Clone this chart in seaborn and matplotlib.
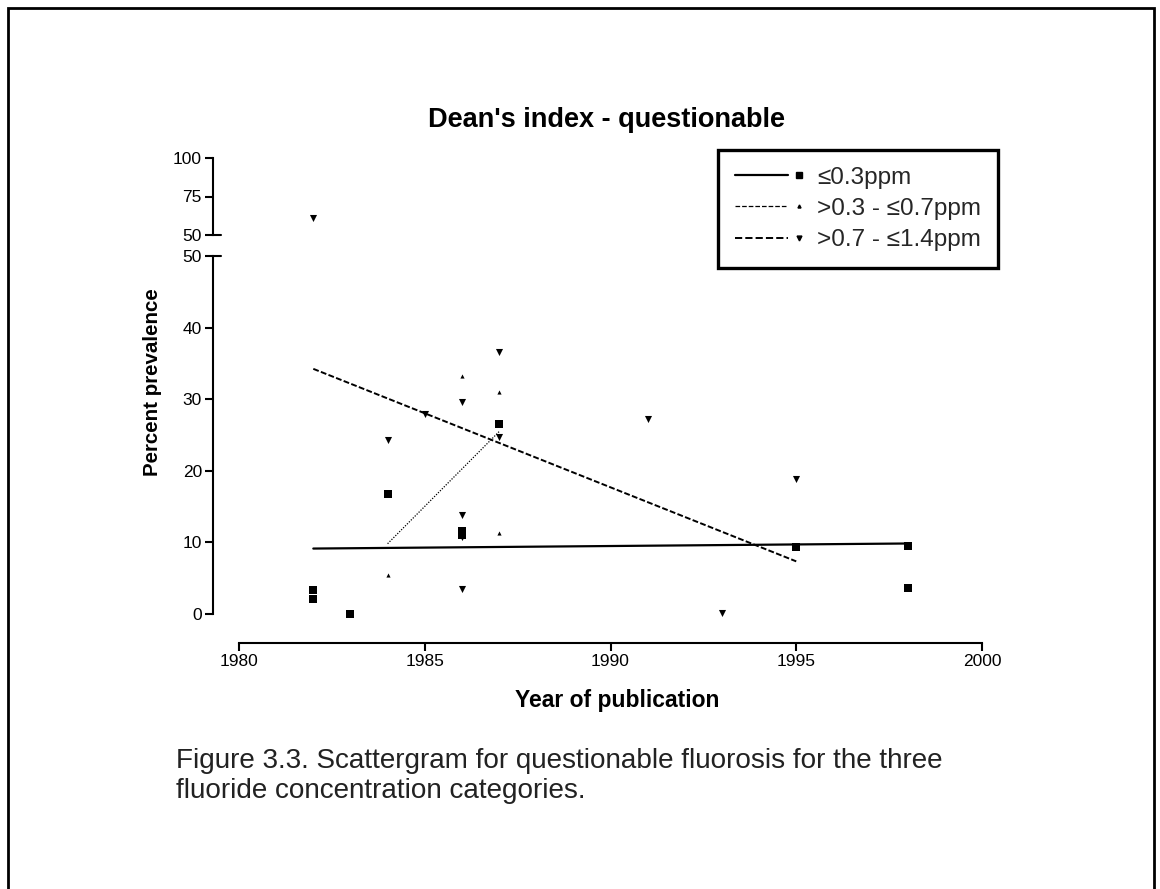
import numpy as np
import pandas as pd
import matplotlib
matplotlib.use("Agg")
import matplotlib.pyplot as plt
from matplotlib.lines import Line2D
from matplotlib.patches import Rectangle
from matplotlib.legend_handler import HandlerBase
import seaborn as sns

# ---------------- data ----------------
years_low = [1982, 1982, 1983, 1984, 1986, 1986, 1987, 1995, 1998, 1998]
prev_low = [3.4, 2.1, 0.0, 16.8, 11.6, 11.0, 26.6, 9.4, 9.5, 3.7]

years_mid = [1984, 1986, 1987, 1987]
prev_mid = [5.5, 33.2, 31.0, 11.3]

years_high = [1982, 1984, 1985, 1986, 1986, 1986, 1986, 1987, 1987, 1991, 1993, 1995]
prev_high = [61.0, 24.3, 28.0, 29.6, 13.8, 10.8, 3.5, 36.6, 24.7, 27.2, 0.2, 18.8]

group_labels = ["\u22640.3ppm", ">0.3 - \u22640.7ppm", ">0.7 - \u22641.4ppm"]
x_ticks = [1980, 1985, 1990, 1995, 2000]
y_ticks_low = [0, 10, 20, 30, 40, 50]
y_ticks_high = [50, 75, 100]

title = "Dean's index - questionable"
xlabel = "Year of publication"
ylabel = "Percent prevalence"
caption = ("Figure 3.3. Scattergram for questionable fluorosis for the three\n"
           "fluoride concentration categories.")

# ---------------- styling ----------------
sns.set_theme(style="white")
plt.rcParams["font.family"] = ["Liberation Sans", "DejaVu Sans"]

W, H = 1160, 889
fig = plt.figure(figsize=(W / 100, H / 100), dpi=100)
fig.patch.set_facecolor("white")

def fx(px):
    return px / W

def fy(py):
    return 1 - py / H

x_left, x_right = 239, 982
ax_low = fig.add_axes([fx(x_left), fy(614), fx(x_right - x_left), fy(256) - fy(614)])
ax_high = fig.add_axes([fx(x_left), fy(235), fx(x_right - x_left), fy(158) - fy(235)])

df = pd.concat([
    pd.DataFrame({"year": years_low, "prev": prev_low, "group": group_labels[0]}),
    pd.DataFrame({"year": years_mid, "prev": prev_mid, "group": group_labels[1]}),
    pd.DataFrame({"year": years_high, "prev": prev_high, "group": group_labels[2]}),
], ignore_index=True)

marker_spec = {
    group_labels[0]: dict(marker="s", s=36),
    group_labels[1]: dict(marker="^", s=9),
    group_labels[2]: dict(marker="v", s=26),
}
line_spec = {
    group_labels[0]: dict(ls="-", lw=1.6),
    group_labels[1]: dict(ls=(0, (1, 1.2)), lw=0.9),
    group_labels[2]: dict(ls=(0, (3.0, 1.2)), lw=1.4),
}

for g in group_labels:
    sub = df[df["group"] == g]
    low = sub[sub["prev"] <= 50]
    high = sub[sub["prev"] > 50]
    if len(low):
        sns.scatterplot(data=low, x="year", y="prev", ax=ax_low, color="black",
                        edgecolor="black", linewidth=0, legend=False,
                        clip_on=False, **marker_spec[g])
    if len(high):
        sns.scatterplot(data=high, x="year", y="prev", ax=ax_high, color="black",
                        edgecolor="black", linewidth=0, legend=False,
                        clip_on=False, **marker_spec[g])
    sns.regplot(data=sub, x="year", y="prev", ax=ax_low, scatter=False,
                ci=None, truncate=True,
                line_kws=dict(color="black", **line_spec[g]))

# lower axes
ax_low.set_xlim(1980, 2000)
ax_low.set_ylim(0, 50)
ax_low.set_xticks(x_ticks)
ax_low.set_yticks(y_ticks_low)
ax_low.set_xlabel("")
ax_low.set_ylabel("")
for s in ("top", "right"):
    ax_low.spines[s].set_visible(False)
ax_low.spines["left"].set_position(("outward", 26 * 0.72))
ax_low.spines["bottom"].set_position(("outward", 29 * 0.72))

# upper axes
ax_high.set_xlim(1980, 2000)
ax_high.set_ylim(50, 100)
ax_high.set_yticks(y_ticks_high)
ax_high.set_xticks([])
ax_high.set_xlabel("")
ax_high.set_ylabel("")
for s in ("top", "right", "bottom"):
    ax_high.spines[s].set_visible(False)
ax_high.spines["left"].set_position(("outward", 26 * 0.72))

for ax in (ax_low, ax_high):
    ax.patch.set_alpha(0)
    for s in ax.spines.values():
        s.set_color("black")
        s.set_linewidth(1.5)
    ax.tick_params(axis="both", direction="out", length=6, width=1.5,
                   color="black", labelcolor="black", labelsize=12.5, pad=2,
                   left=True, bottom=True)
    for lab in ax.get_yticklabels():
        lab.set_fontsize(12.5)

# axis-break marks (short right-pointing ticks at the two 50 levels)
for py in (256, 235):
    fig.add_artist(Line2D([fx(213), fx(221)], [fy(py), fy(py)], color="black", lw=1.5))

# texts
fig.text(fx(607), fy(120), title, ha="center", va="center", fontsize=19.5,
         fontweight="bold", color="black")
fig.text(fx(152), fy(382), ylabel, ha="center", va="center", rotation=90,
         fontsize=14.8, fontweight="bold", color="black")
fig.text(fx(617), fy(700), xlabel, ha="center", va="center", fontsize=16.5,
         fontweight="bold", color="black")
fig.text(fx(176), fy(776), caption, ha="left", va="center", fontsize=20.1,
         color="#222222", linespacing=1.22)

# legend with line sample + marker side by side
class LineMarkerHandler(HandlerBase):
    def create_artists(self, legend, orig_handle, xdescent, ydescent, width,
                       height, fontsize, trans):
        ln, mk = orig_handle
        y = height / 2 - ydescent
        l = Line2D([-xdescent, -xdescent + 0.76 * width], [y, y],
                   color="black", ls=ln.get_linestyle(), lw=ln.get_linewidth())
        m = Line2D([-xdescent + 0.92 * width], [y], ls="none",
                   marker=mk.get_marker(), markersize=mk.get_markersize(),
                   color="black")
        l.set_transform(trans)
        m.set_transform(trans)
        return [l, m]

handles = []
ms_legend = {group_labels[0]: 5, group_labels[1]: 2.2, group_labels[2]: 3.5}
for g in group_labels:
    ln = Line2D([], [], color="black", **line_spec[g])
    mk = Line2D([], [], ls="none", marker=marker_spec[g]["marker"],
                markersize=ms_legend[g], color="black")
    handles.append((ln, mk))

leg = fig.legend(handles, group_labels, handler_map={tuple: LineMarkerHandler()},
                 loc="upper left", bbox_to_anchor=(fx(718), fy(150)),
                 fontsize=17.5, frameon=True, fancybox=False, shadow=False,
                 handlelength=2.9, handletextpad=0.5, borderpad=0.68,
                 labelspacing=0.38, borderaxespad=0)
fr = leg.get_frame()
fr.set_edgecolor("black")
fr.set_linewidth(2.4)
fr.set_facecolor("white")
fr.set_alpha(1)

# page border (bottom edge falls outside the picture)
fig.add_artist(Rectangle((fx(8), -0.05), fx(1154) - fx(8), fy(8) + 0.05,
                         fill=False, edgecolor="black", lw=2.0,
                         transform=fig.transFigure, clip_on=False))

fig.savefig("out.png", dpi=100, facecolor="white")
